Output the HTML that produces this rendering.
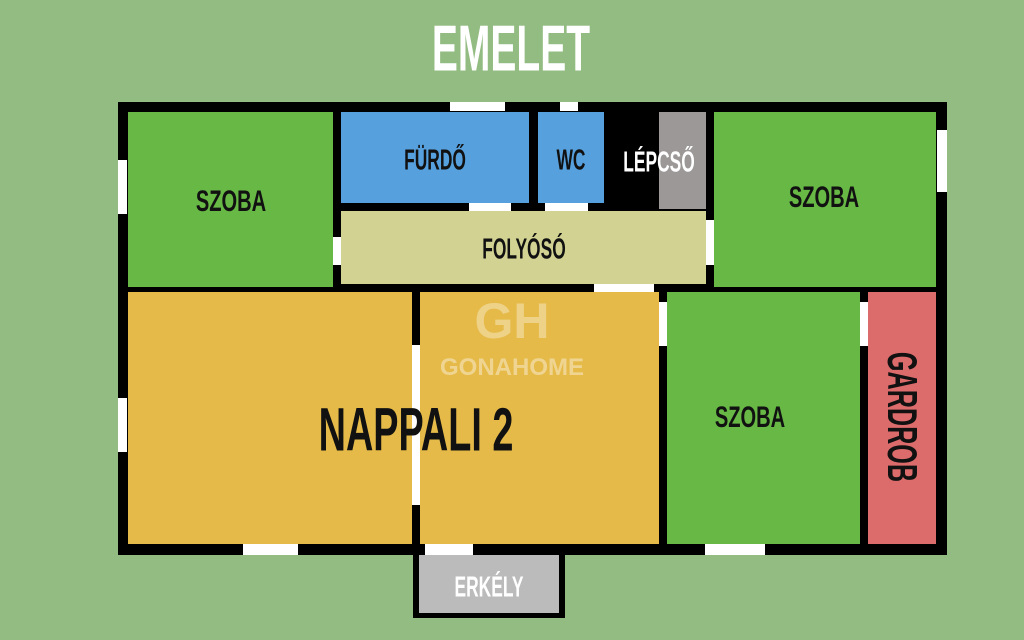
<!DOCTYPE html>
<html><head><meta charset="utf-8"><style>
body{margin:0;width:1024px;height:640px;background:#93bc82;position:relative;overflow:hidden;font-family:"Liberation Sans",sans-serif;font-weight:bold}
.r{position:absolute}
.t{position:absolute;white-space:nowrap;line-height:1;color:#111}
</style></head><body>
<div class="r" style="left:118px;top:102px;width:829px;height:453px;background:#000"></div>
<div class="r" style="left:413px;top:550px;width:152px;height:68px;background:#000"></div>
<div class="r" style="left:419px;top:555px;width:140px;height:58px;background:#bcbbbb"></div>
<!-- rooms -->
<div class="r" style="left:128px;top:112px;width:205px;height:175px;background:#67b845"></div>
<div class="r" style="left:341px;top:112px;width:188px;height:91px;background:#55a0dd"></div>
<div class="r" style="left:538px;top:112px;width:66px;height:91px;background:#55a0dd"></div>
<div class="r" style="left:659px;top:112px;width:47px;height:97px;background:#9b9897"></div>
<div class="r" style="left:341px;top:211px;width:365px;height:73px;background:#d2d393"></div>
<div class="r" style="left:714px;top:112px;width:222px;height:175px;background:#67b845"></div>
<div class="r" style="left:128px;top:292px;width:284px;height:252px;background:#e5ba48"></div>
<div class="r" style="left:420px;top:292px;width:239px;height:252px;background:#e5ba48"></div>
<div class="r" style="left:667px;top:292px;width:193px;height:252px;background:#67b845"></div>
<div class="r" style="left:868px;top:292px;width:68px;height:252px;background:#dc6b6b"></div>
<!-- white openings -->
<div class="r" style="left:450px;top:102px;width:55px;height:9px;background:#fff"></div>
<div class="r" style="left:560px;top:102px;width:18px;height:9px;background:#fff"></div>
<div class="r" style="left:118px;top:160px;width:9px;height:54px;background:#fff"></div>
<div class="r" style="left:118px;top:398px;width:9px;height:54px;background:#fff"></div>
<div class="r" style="left:937px;top:130px;width:10px;height:62px;background:#fff"></div>
<div class="r" style="left:333px;top:237px;width:8px;height:28px;background:#fff"></div>
<div class="r" style="left:469px;top:203px;width:42px;height:8px;background:#fff"></div>
<div class="r" style="left:545px;top:203px;width:43px;height:8px;background:#fff"></div>
<div class="r" style="left:594px;top:284px;width:60px;height:8px;background:#fff"></div>
<div class="r" style="left:706px;top:220px;width:8px;height:45px;background:#fff"></div>
<div class="r" style="left:412px;top:345px;width:8px;height:160px;background:#fff"></div>
<div class="r" style="left:659px;top:302px;width:8px;height:44px;background:#fff"></div>
<div class="r" style="left:860px;top:302px;width:8px;height:44px;background:#fff"></div>
<div class="r" style="left:243px;top:544px;width:55px;height:11px;background:#fff"></div>
<div class="r" style="left:425px;top:544px;width:48px;height:11px;background:#fff"></div>
<div class="r" style="left:705px;top:544px;width:60px;height:11px;background:#fff"></div>
<!-- watermark -->
<div class="t" style="left:512px;top:296px;transform:translate(-50%,0);font-size:50px;color:rgba(255,255,255,.35)">GH</div>
<div class="t" style="left:512px;top:368px;transform:translate(-50%,-50%);font-size:24px;color:rgba(255,255,255,.4)">GONAHOME</div>
<!-- labels -->
<div class="t" style="left:511px;top:48px;transform:translate(-50%,-50%) scaleX(.6);font-size:65px;color:#fff">EMELET</div>
<div class="t" style="left:231px;top:202px;transform:translate(-50%,-50%) scaleX(.67);font-size:30px">SZOBA</div>
<div class="t" style="left:435px;top:161px;transform:translate(-50%,-50%) scaleX(.6);font-size:29px">FÜRDŐ</div>
<div class="t" style="left:571px;top:161px;transform:translate(-50%,-50%) scaleX(.6);font-size:29px">WC</div>
<div class="t" style="left:659px;top:163px;transform:translate(-50%,-50%) scaleX(.6);font-size:29px;color:#fff">LÉPCSŐ</div>
<div class="t" style="left:524px;top:250px;transform:translate(-50%,-50%) scaleX(.6);font-size:29px">FOLYÓSÓ</div>
<div class="t" style="left:824px;top:198px;transform:translate(-50%,-50%) scaleX(.67);font-size:30px">SZOBA</div>
<div class="t" style="left:416px;top:430px;transform:translate(-50%,-50%) scaleX(.62);font-size:61px">NAPPALI 2</div>
<div class="t" style="left:750px;top:418px;transform:translate(-50%,-50%) scaleX(.67);font-size:30px">SZOBA</div>
<div class="t" style="left:902px;top:417px;transform:translate(-50%,-50%) rotate(90deg) scaleX(.6);font-size:42px">GARDROB</div>
<div class="t" style="left:489px;top:588px;transform:translate(-50%,-50%) scaleX(.6);font-size:29px;color:#fff">ERKÉLY</div>
</body></html>
